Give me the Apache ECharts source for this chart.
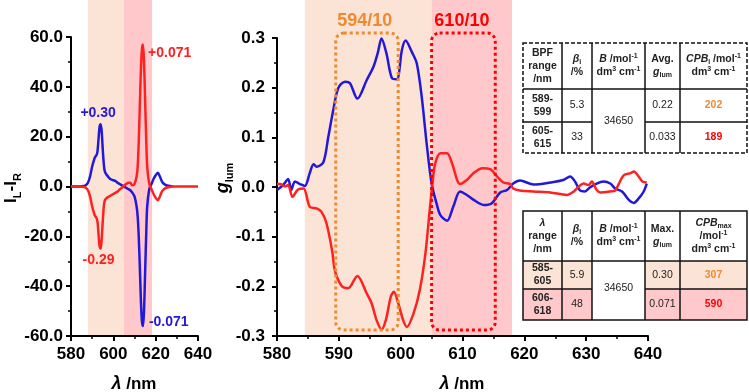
<!DOCTYPE html>
<html>
<head>
<meta charset="utf-8">
<script src="https://cdn.jsdelivr.net/npm/echarts@6/dist/echarts.min.js"></script>
<style>
html, body { margin: 0; padding: 0; background: #fff; }
#chart { width: 749px; height: 392px; }
</style>
</head>
<body>
<div id="chart"></div>
<script>
// left panel: I_L - I_R
const leftWl = [580, 582, 584, 586, 587, 588, 589, 590, 591, 591.5, 592, 592.5, 593, 593.5, 594, 594.5, 595, 595.5, 596, 597, 598, 599, 600, 601, 602, 603, 604, 605, 606, 607, 608, 609, 610, 611, 611.5, 612, 612.5, 613, 613.5, 614, 614.5, 615, 615.5, 616, 617, 618, 619, 620, 621, 622, 623, 624, 625, 626, 628, 630, 632, 635, 640]
const leftBlue = [0, 0, 0, 0.2, 0.5, 1.5, 4, 8, 11, 12, 12.5, 14, 19, 24, 25, 22, 15, 9, 6, 4.5, 3.5, 2.8, 2.5, 2.2, 1.5, 1, 0.5, 0, -0.5, -1, -1.5, -2.5, -4, -8, -12, -20, -32, -45, -54, -56, -50, -35, -20, -8, -1, 1, 3, 4.5, 5.5, 4, 2, 1, 0.5, 0.3, 0, null, null, null, null]
const leftRed = [0, 0, 0, -0.2, -0.5, -1.5, -4, -8, -11, -12, -12.5, -14, -19, -24, -25, -21, -14, -8, -5.5, -4.5, -4, -3.5, -3, -2.5, -2, -1.2, -0.5, 0.3, 1, 1.5, 1.5, 0.5, 1, 4, 8, 18, 32, 46, 55, 57, 50, 35, 20, 8, 1, -1, -3, -4.5, -5.5, -4, -2, -1, -0.5, -0.3, 0, 0, 0, 0, 0]

// middle panel: g_lum
const midBlueWl = [580, 581, 581.8, 582.3, 582.9, 583.7, 584.5, 585.3, 585.9, 586.4, 587.5, 588.3, 589.1, 589.9, 591, 591.8, 593, 594.5, 595.6, 596.3, 596.9, 597.7, 598.6, 599.4, 600.2, 600.8, 601.8, 602.6, 603.4, 604.2, 605, 605.8, 606.4, 607.5, 608.5, 609.6, 610.7, 611.8, 613.4, 614.7, 616.1, 617.2, 618.2, 619.3, 621.5, 624.2, 626.3, 627.4, 628.2, 629, 629.8, 630.6, 631.7, 632.8, 633.9, 634.7, 635.8, 636.9, 637.7, 638.5, 639.3, 639.8]
const midBlue = [-0.006, 0.004, 0.016, -0.006, 0.011, 0.006, 0.002, 0.028, 0.046, 0.041, 0.05, 0.101, 0.155, 0.199, 0.212, 0.209, 0.178, 0.215, 0.242, 0.27, 0.299, 0.269, 0.219, 0.217, 0.276, 0.295, 0.272, 0.249, 0.182, 0.088, 0.007, -0.033, -0.056, -0.068, -0.04, -0.009, -0.016, -0.026, -0.036, -0.033, -0.011, -0.006, 0.007, 0.013, 0.005, 0.009, 0.014, 0.021, 0.011, -0.007, -0.009, -0.001, 0.007, 0.011, 0.007, -0.003, -0.009, -0.026, -0.032, -0.023, -0.009, 0.007]
const midRedWl = [580, 580.5, 581.3, 581.8, 582.5, 583.4, 584.3, 585.3, 586.4, 587.2, 588, 588.9, 589.4, 590.5, 591.5, 593, 594.5, 595.3, 596.1, 596.9, 597.6, 598.4, 598.9, 599.6, 600.4, 601, 602.1, 603.1, 604, 604.7, 605.2, 605.6, 606.4, 607.5, 608.3, 609.6, 610.7, 611.8, 613.2, 614.5, 615.6, 616.6, 617.7, 618.2, 619.3, 621.5, 624.2, 626.9, 628, 628.8, 629.6, 630.4, 630.9, 631.7, 632.3, 633.9, 634.7, 635.3, 636.1, 637.2, 637.7, 638.5, 639.1, 639.8]
const midRed = [0.006, 0.006, 0.001, 0.004, -0.02, -0.005, -0.003, -0.04, -0.043, -0.05, -0.073, -0.127, -0.17, -0.2, -0.204, -0.179, -0.214, -0.234, -0.268, -0.287, -0.268, -0.221, -0.211, -0.234, -0.268, -0.282, -0.254, -0.207, -0.134, -0.046, 0.014, 0.048, 0.068, 0.068, 0.048, 0.006, 0.014, 0.028, 0.038, 0.036, 0.021, 0.009, 0.006, -0.003, -0.007, -0.009, -0.011, -0.016, -0.009, 0.001, 0.007, 0.004, 0.011, -0.006, -0.011, -0.009, -0.007, 0.007, 0.024, 0.028, 0.031, 0.021, 0.011, 0.009]

// tables
const table1Head = ['{b|BPF}\n{b|range}\n{b|/nm}', '{bi|β}{s|i}\n{b|/%}', '{bi|B}{b| /mol}{p|-1}\n{b|dm}{p|3}{b| cm}{p|-1}', '{b|Avg.}\n{bi|g}{s|lum}', '{bi|CPB}{s|i}{b| /mol}{p|-1}\n{b|dm}{p|3}{b| cm}{p|-1}']
const table1Range = ['589-\n599', '605-\n615']
const table1Beta = ['5.3', '33']
const table1G = ['0.22', '0.033']
const table1Cpb = ['202', '189']
const table2Head = ['{bi|λ}\n{b|range}\n{b|/nm}', '{bi|β}{s|i}\n{b|/%}', '{bi|B}{b| /mol}{p|-1}\n{b|dm}{p|3}{b| cm}{p|-1}', '{b|Max.}\n{bi|g}{s|lum}', '{bi|CPB}{s|max}\n{b|/mol}{p|-1}\n{b|dm}{p|3}{b| cm}{p|-1}']
const table2Range = ['585-\n605', '606-\n618']
const table2Beta = ['5.9', '48']
const table2G = ['0.30', '0.071']
const table2Cpb = ['307', '590']
const molarB = '34650'

const FONT = 'Arial, "Liberation Sans", sans-serif'
const BLUE = '#2318d8'
const RED = '#ff2020'
const ORANGE = '#f08a30'
const PEACH = '#fbe4d5'
const PINK = '#ffc9cc'

const zip = (xs, ys) => xs.map((x, i) => [x, ys[i]])

const axisCommon = {
  axisLine: { onZero: false, lineStyle: { color: '#000', width: 2 } },
  axisTick: { inside: false, length: 5, lineStyle: { color: '#000', width: 2 } },
  minorTick: { show: true, splitNumber: 2, length: 3, lineStyle: { color: '#000', width: 1.5 } },
  splitLine: { show: false },
  axisLabel: { color: '#000', fontWeight: 'bold', fontSize: 17, fontFamily: FONT, margin: 10 },
}

const option = {
  animation: false,
  grid: [
    { left: 71, top: 37, width: 127, height: 299 },
    { left: 277, top: 38, width: 371, height: 298 },
  ],
  xAxis: [
    { ...axisCommon, gridIndex: 0, type: 'value', min: 580, max: 640, interval: 20 },
    { ...axisCommon, gridIndex: 1, type: 'value', min: 580, max: 640, interval: 10 },
  ],
  yAxis: [
    { ...axisCommon, gridIndex: 0, type: 'value', min: -60, max: 60, interval: 20,
      axisLabel: { ...axisCommon.axisLabel, margin: 8, formatter: (v) => v.toFixed(1) } },
    { ...axisCommon, gridIndex: 1, type: 'value', min: -0.3, max: 0.3, interval: 0.1,
      axisLabel: { ...axisCommon.axisLabel, margin: 12, formatter: (v) => v.toFixed(1) } },
  ],
  series: [
    { type: 'line', xAxisIndex: 0, yAxisIndex: 0, data: zip(leftWl, leftBlue), showSymbol: false, smooth: 0.3, lineStyle: { color: BLUE, width: 2.5 } },
    { type: 'line', xAxisIndex: 0, yAxisIndex: 0, data: zip(leftWl, leftRed), showSymbol: false, smooth: 0.3, lineStyle: { color: RED, width: 2.5 } },
    { type: 'line', xAxisIndex: 1, yAxisIndex: 1, data: zip(midBlueWl, midBlue), showSymbol: false, smooth: 0.3, lineStyle: { color: BLUE, width: 2.5 } },
    { type: 'line', xAxisIndex: 1, yAxisIndex: 1, data: zip(midRedWl, midRed), showSymbol: false, smooth: 0.3, lineStyle: { color: RED, width: 2.5 } },
  ],
}

const chart = echarts.init(document.getElementById('chart'))
chart.setOption(option)

const p0 = (x, y) => chart.convertToPixel({ xAxisIndex: 0, yAxisIndex: 0 }, [x, y])
const p1 = (x, y) => chart.convertToPixel({ xAxisIndex: 1, yAxisIndex: 1 }, [x, y])

const band = (p, yMin, x0, x1, color) => {
  const a = p(x0, yMin)
  const b = p(x1, yMin)
  return { type: 'rect', z: 0, silent: true, shape: { x: a[0], y: 0, width: b[0] - a[0], height: a[1] - 1 }, style: { fill: color } }
}

const dotBox = (x0, x1, color) => {
  const a = p1(x0, 0.31)
  const b = p1(x1, -0.288)
  return { type: 'rect', z: 10, shape: { x: a[0], y: a[1], width: b[0] - a[0], height: b[1] - a[1], r: 8 },
    style: { fill: 'none', stroke: color, lineWidth: 3, lineDash: [3, 3] } }
}

const label = (pt, text, color, align) => ({
  type: 'text', z: 12, style: { x: pt[0], y: pt[1], text, fill: color, font: 'bold 14px ' + FONT, align: align || 'center', verticalAlign: 'middle' },
})

const richTitle = {
  b: { fontSize: 17, fontWeight: 'bold', fontFamily: FONT, fill: '#000', lineHeight: 24 },
  bi: { fontSize: 18, fontWeight: 'bold', fontStyle: 'italic', fontFamily: FONT, fill: '#000', lineHeight: 24 },
  s: { fontSize: 11, fontWeight: 'bold', fontFamily: FONT, fill: '#000', lineHeight: 12, verticalAlign: 'bottom' },
}

const title = (x, y, text, rot) => ({
  type: 'text', z: 12, x, y, rotation: rot || 0,
  style: { text, rich: richTitle, align: 'center', verticalAlign: 'middle' },
})

const cellRich = {
  n: { fontSize: 10.5, fontFamily: FONT, fill: '#222', lineHeight: 13 },
  b: { fontSize: 10.5, fontWeight: 'bold', fontFamily: FONT, fill: '#222', lineHeight: 13 },
  bi: { fontSize: 10.5, fontWeight: 'bold', fontStyle: 'italic', fontFamily: FONT, fill: '#222', lineHeight: 13 },
  s: { fontSize: 7, fontWeight: 'bold', fontFamily: FONT, fill: '#222', lineHeight: 9, verticalAlign: 'bottom' },
  p: { fontSize: 7, fontWeight: 'bold', fontFamily: FONT, fill: '#222', lineHeight: 9, verticalAlign: 'top' },
  bo: { fontSize: 10.5, fontWeight: 'bold', fontFamily: FONT, fill: ORANGE, lineHeight: 13 },
  br: { fontSize: 10.5, fontWeight: 'bold', fontFamily: FONT, fill: '#ff0000', lineHeight: 13 },
}

const cell = (x, y, text) => ({
  type: 'text', z: 12, style: { x, y, text, rich: cellRich, align: 'center', verticalAlign: 'middle' },
})

const bold = (s) => s.split('\n').map((t) => '{b|' + t + '}').join('\n')

const line = (x1, y1, x2, y2, dash) => ({
  type: 'line', z: 11, shape: { x1, y1, x2, y2 },
  style: { stroke: '#111', lineWidth: 1.5, lineDash: dash || null },
})

const table = (top, cols, rows, head, range, beta, g, cpb, dashed, fills) => {
  const out = []
  const mid = (i) => (cols[i] + cols[i + 1]) / 2
  const left = cols[0]
  const right = cols[cols.length - 1]
  if (fills) {
    fills.forEach((f, r) => {
      ;[0, 1, 3, 4].forEach((c) => {
        out.push({ type: 'rect', z: 10, shape: { x: cols[c], y: rows[r + 1], width: cols[c + 1] - cols[c], height: rows[r + 2] - rows[r + 1] }, style: { fill: f } })
      })
    })
  }
  out.push({ type: 'rect', z: 11, shape: { x: left, y: top, width: right - left, height: rows[3] - top },
    style: { fill: 'none', stroke: '#111', lineWidth: 1.5, lineDash: dashed ? [4, 2] : null } })
  for (let i = 1; i < cols.length - 1; i++) out.push(line(cols[i], top, cols[i], rows[3]))
  out.push(line(left, rows[1], right, rows[1]))
  out.push(line(left, rows[2], cols[2], rows[2]))
  out.push(line(cols[3], rows[2], right, rows[2]))
  head.forEach((h, i) => out.push(cell(mid(i), (rows[0] + rows[1]) / 2, h)))
  for (let r = 0; r < 2; r++) {
    const y = (rows[r + 1] + rows[r + 2]) / 2
    out.push(cell(mid(0), y, bold(range[r])))
    out.push(cell(mid(1), y, '{n|' + beta[r] + '}'))
    out.push(cell(mid(3), y, '{n|' + g[r] + '}'))
    out.push(cell(mid(4), y, (r === 0 ? '{bo|' : '{br|') + cpb[r] + '}'))
  }
  out.push(cell(mid(2), rows[2] - 1, '{n|' + molarB + '}'))
  return out
}

const cols = [523, 562, 592, 645, 680, 747]

const graphics = [
  band(p0, -60, 588, 605, PEACH),
  band(p0, -60, 605, 618.3, PINK),
  band(p1, -0.3, 584.5, 605, PEACH),
  band(p1, -0.3, 605, 618, PINK),
  dotBox(589.5, 599.6, ORANGE),
  dotBox(605, 615.3, '#ff0000'),
  label(p0(592.8, 29.5), '+0.30', BLUE),
  label(p0(616.4, 53.6), '+0.071', RED, 'left'),
  label(p0(593, -29.5), '-0.29', RED),
  label(p0(616.8, -54.4), '-0.071', BLUE, 'left'),
  { type: 'text', z: 12, style: { x: p1(594.2, 0.334)[0], y: p1(594.2, 0.334)[1], text: '594/10', fill: ORANGE, font: 'bold 18px ' + FONT, align: 'center', verticalAlign: 'middle' } },
  { type: 'text', z: 12, style: { x: p1(609.9, 0.334)[0], y: p1(609.9, 0.334)[1], text: '610/10', fill: '#ff0000', font: 'bold 18px ' + FONT, align: 'center', verticalAlign: 'middle' } },
  title(134, 384, '{bi|λ}{b| /nm}'),
  title(462, 384, '{bi|λ}{b| /nm}'),
  title(11, 188, '{b|I}{s|L}{b|-I}{s|R}', Math.PI / 2),
  title(223, 178, '{bi|g}{s|lum}', Math.PI / 2),
  ...table(43, cols, [43, 89, 122, 153], table1Head, table1Range, table1Beta, table1G, table1Cpb, true, null),
  ...table(211, cols, [211, 261, 289, 320], table2Head, table2Range, table2Beta, table2G, table2Cpb, false, [PEACH, PINK]),
]

chart.setOption({ graphic: graphics })
</script>
</body>
</html>
